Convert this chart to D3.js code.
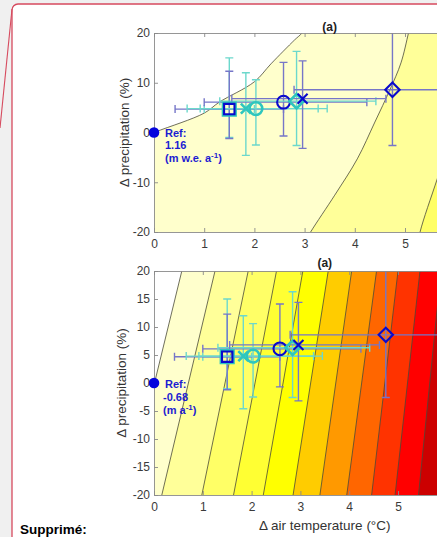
<!DOCTYPE html>
<html>
<head>
<meta charset="utf-8">
<script src="https://cdn.jsdelivr.net/npm/d3@7"></script>
<style>
  html, body { margin: 0; padding: 0; background: #f0f0f0; overflow: hidden; }
  svg { display: block; }
  text { font-family: "Liberation Sans", Arial, sans-serif; }
</style>
</head>
<body>
<svg id="chart" width="437" height="537"></svg>
<script>
// ---- Axis ticks ----
const xTickValues = [0, 1, 2, 3, 4, 5];
const topYTicks = [-20, -10, 0, 10, 20];
const bottomYTicks = [-20, -15, -10, -5, 0, 5, 10, 15, 20];

// ---- Scenario points (Δ air temperature °C, Δ precipitation %) with uncertainty ranges ----
const pointX     = [1.5, 1.5, 1.83, 2.03, 2.58, 2.84, 2.96, 4.75];
const pointY     = [4.7, 4.7, 4.8, 4.8, 6.1, 6.3, 6.8, 8.6];
const pointXLow  = [1.0, 0.42, 0.66, 0.92, 1.0, 1.31, 1.55, 2.79];
const pointXHigh = [2.0, 2.58, 3.27, 3.45, 4.24, 4.42, 4.62, 6.71];
const pointYLow  = [-1.0, -1.2, -4.6, -2.5, -0.7, -2.6, -3.2, -2.6];
const pointYHigh = [15.0, 12.3, 12.0, 10.6, 14.1, 16.3, 14.4, 20.1];
const pointShape = ["square", "square", "cross", "circle", "circle", "diamond", "cross", "diamond"];
const pointGroup = ["cyan", "blue", "cyan", "cyan", "blue", "cyan", "blue", "blue"];

// ---- Reference climate labels ----
const topRefLines = ["Ref:", "1.16", "(m w.e. a"];
const bottomRefLines = ["Ref:", "-0.68", "(m a"];

// ---- Upper panel: contour lines of the response surface (°C, %) ----
const topContourA = [[-1, -4], [0, 0], [1.0, 3.9], [1.3, 6.1], [2.0, 10.2], [2.33, 13.8], [2.8, 18.6], [2.95, 20], [3.05, 21.5]];
const topContourB = [[2.95, -23], [3.12, -20], [3.6, -12.6], [4.05, -5.3], [4.4, 2.1], [4.7, 8.6], [4.92, 14], [5.07, 20], [5.12, 22]];
const topContourC = [[5.25, -23], [5.3, -20], [5.64, -9.4], [5.95, 0], [6.3, 10], [6.6, 20], [6.65, 23]];
const topBandColors = ["#ffffff", "#ffffcc", "#ffff99", "#ffff66"];

// ---- Lower panel: contour lines given by their x at Δp = +20 % and at Δp = -20 % ----
const bottomLineXAtTop    = [0.57, 1.25, 1.93, 2.51, 3.05, 3.57, 4.05, 4.56, 5.00, 5.45, 5.88, 6.32];
const bottomLineXAtBottom = [-0.55, 0.16, 0.98, 1.63, 2.24, 2.85, 3.40, 3.95, 4.46, 4.94, 5.42, 5.90];
const bottomBandColors = ["#ffffff", "#ffffcc", "#ffff99", "#ffff66", "#ffff33", "#ffff00",
                          "#ffcc00", "#ff9900", "#ff6600", "#ff3300", "#ff0000", "#cc0000", "#990000"];

const svg = d3.select("#chart");

// Page frame (comment balloon) and its connector
svg.append("rect")
  .attr("x", 12).attr("y", 4).attr("width", 460).attr("height", 580).attr("rx", 6)
  .attr("fill", "#ffffff").attr("stroke", "#d64a5e").attr("stroke-width", 1.3);
svg.append("line")
  .attr("x1", 12).attr("y1", 9).attr("x2", 0).attr("y2", 128)
  .attr("stroke", "#d64a5e").attr("stroke-width", 1.1);

const groupColor = { blue: "#0a0acc", cyan: "#2ec6be" };
const barColor = { blue: "#7676c8", cyan: "#6cd8cc" };
const markerHalf = { square: 5.2, circle: 6.4, diamond: 7.2, cross: 5 };
const tickText = d => String(d);

function markerPath(shape, s) {
  if (shape === "square") return `M${-s},${-s}H${s}V${s}H${-s}Z`;
  if (shape === "diamond") return `M0,${-s}L${s},0L0,${s}L${-s},0Z`;
  if (shape === "cross") return `M${-s},${-s}L${s},${s}M${s},${-s}L${-s},${s}`;
  const p = d3.path(); p.arc(0, 0, s, 0, 2 * Math.PI); p.closePath(); return p.toString();
}

function drawPanel(cfg) {
  const g = svg.append("g");
  const x = d3.scaleLinear().domain([0, 7]).range([cfg.left, cfg.left + 7 * cfg.unit]);
  const y = d3.scaleLinear().domain([-20, 20]).range([cfg.bottom, cfg.top]);
  const clipId = "clip-" + cfg.id;

  g.append("clipPath").attr("id", clipId).append("rect")
    .attr("x", x(0)).attr("y", y(20)).attr("width", x(7) - x(0)).attr("height", y(-20) - y(20));

  const field = g.append("g").attr("clip-path", `url(#${clipId})`);
  field.append("rect")
    .attr("x", x(0)).attr("y", y(20)).attr("width", x(7) - x(0)).attr("height", y(-20) - y(20))
    .attr("fill", cfg.bands[0]);

  const curveGen = d3.line().x(d => x(d[0])).y(d => y(d[1])).curve(d3.curveCatmullRom.alpha(0.5));
  cfg.curves.forEach((c, i) => {
    const last = c[c.length - 1], first = c[0];
    const closing = [[9, last[1]], [9, -25], [first[0], -25]]
      .map(p => `L${x(p[0])},${y(p[1])}`).join("");
    field.append("path").attr("d", curveGen(c) + closing + "Z").attr("fill", cfg.bands[i + 1]);
  });
  cfg.curves.forEach(c => {
    field.append("path").attr("d", curveGen(c))
      .attr("fill", "none").attr("stroke", "#4a4a3a").attr("stroke-width", 0.8);
  });

  // Error bars
  const bars = field.append("g").attr("fill", "none").attr("stroke-width", 1.4);
  const cap = 4;
  pointX.forEach((px, i) => {
    const c = barColor[pointGroup[i]];
    const cx = x(px), cy = y(pointY[i]);
    const xl = x(pointXLow[i]), xh = x(pointXHigh[i]);
    const yl = y(pointYLow[i]), yh = y(pointYHigh[i]);
    bars.append("path").attr("stroke", c)
      .attr("d", `M${xl},${cy}H${xh}M${xl},${cy - cap}V${cy + cap}M${xh},${cy - cap}V${cy + cap}` +
                 `M${cx},${yl}V${yh}M${cx - cap},${yl}H${cx + cap}M${cx - cap},${yh}H${cx + cap}`);
  });

  // Markers
  const marks = field.append("g").attr("fill", "none");
  pointX.forEach((px, i) => {
    const grp = pointGroup[i], shp = pointShape[i];
    let s = markerHalf[shp];
    if (shp === "square" && grp === "cyan") s = 6.3;
    marks.append("path")
      .attr("transform", `translate(${x(px)},${y(pointY[i])})`)
      .attr("d", markerPath(shp, s))
      .attr("stroke", groupColor[grp])
      .attr("stroke-width", grp === "cyan" ? 2.6 : 2.1);
  });

  // Axes (inward ticks, box on)
  const axisStyle = sel => {
    sel.selectAll("path.domain").attr("stroke", "#8a8a8a").attr("stroke-width", 0.9);
    sel.selectAll(".tick line").attr("stroke", "#8a8a8a").attr("stroke-width", 0.9);
    sel.selectAll(".tick text").attr("fill", "#3a3a3a").attr("font-size", 12)
      .attr("font-family", "'Liberation Sans', Arial, sans-serif");
  };
  g.append("g").attr("transform", `translate(0,${y(-20)})`)
    .call(d3.axisBottom(x).tickValues(xTickValues).tickSizeInner(-4).tickSizeOuter(0).tickPadding(7.5).tickFormat(tickText))
    .call(axisStyle);
  g.append("g").attr("transform", `translate(0,${y(20)})`)
    .call(d3.axisTop(x).tickValues(xTickValues).tickSizeInner(-4).tickSizeOuter(0).tickFormat(""))
    .call(axisStyle);
  g.append("g").attr("transform", `translate(${x(0)},0)`)
    .call(d3.axisLeft(y).tickValues(cfg.yTicks).tickSizeInner(-4).tickSizeOuter(0).tickPadding(4).tickFormat(tickText))
    .call(axisStyle);
  g.append("g").attr("transform", `translate(${x(7)},0)`)
    .call(d3.axisRight(y).tickValues(cfg.yTicks).tickSizeInner(-4).tickSizeOuter(0).tickFormat(""))
    .call(axisStyle);

  // Title
  g.append("text").attr("x", x(3.5)).attr("y", cfg.titleY)
    .attr("text-anchor", "middle").attr("font-size", 12).attr("font-weight", "bold")
    .attr("fill", "#222").text("(a)");

  // Y label
  g.append("text")
    .attr("transform", `translate(${cfg.yLabelX},${(y(20) + y(-20)) / 2}) rotate(-90)`)
    .attr("text-anchor", "middle").attr("font-size", 13.5).attr("fill", "#333")
    .text("\u0394 precipitation (%)");

  // Reference point and label
  g.append("circle").attr("cx", x(0)).attr("cy", y(0)).attr("r", 5.3).attr("fill", "#0505dd");
  const ref = g.append("text").attr("font-size", 11).attr("font-weight", "bold").attr("fill", "#1c1cd2");
  cfg.refLines.forEach((t, i) => {
    ref.append("tspan").attr("x", cfg.refX[i]).attr("y", y(0) + cfg.refDy[i]).text(t);
    if (i === cfg.refLines.length - 1) {
      ref.append("tspan").attr("font-size", 8).attr("dy", -4).text("-1");
      ref.append("tspan").attr("dy", 4).text(")");
    }
  });

  return { x, y };
}

drawPanel({
  id: "top", left: 154, unit: 50.2, top: 33, bottom: 232,
  yTicks: topYTicks, curves: [topContourA, topContourB, topContourC], bands: topBandColors,
  titleY: 31, yLabelX: 129,
  refLines: topRefLines, refX: [165, 165, 165], refDy: [4.5, 16.5, 29]
});

const bottomCurves = bottomLineXAtTop.map((xt, i) => {
  const xb = bottomLineXAtBottom[i];
  const k = (xt - xb) / 40;
  return [[xb - 3 * k, -23], [xt + 3 * k, 23]];
});

const bottomPanel = drawPanel({
  id: "bottom", left: 154, unit: 48.8, top: 271, bottom: 495,
  yTicks: bottomYTicks, curves: bottomCurves, bands: bottomBandColors,
  titleY: 267, yLabelX: 126,
  refLines: bottomRefLines, refX: [165, 163, 163], refDy: [5, 18, 31]
});

// X label for the lower panel
svg.append("text")
  .attr("x", bottomPanel.x(3.5)).attr("y", 530)
  .attr("text-anchor", "middle").attr("font-size", 13.5).attr("fill", "#333")
  .text("\u0394 air temperature (\u00b0C)");

// Tracked-change note
svg.append("text")
  .attr("x", 20).attr("y", 533.5)
  .attr("font-family", "'DejaVu Sans', Verdana, sans-serif")
  .attr("font-size", 13.5).attr("font-weight", "bold").attr("fill", "#000")
  .text("Supprimé:");
</script>
</body>
</html>
